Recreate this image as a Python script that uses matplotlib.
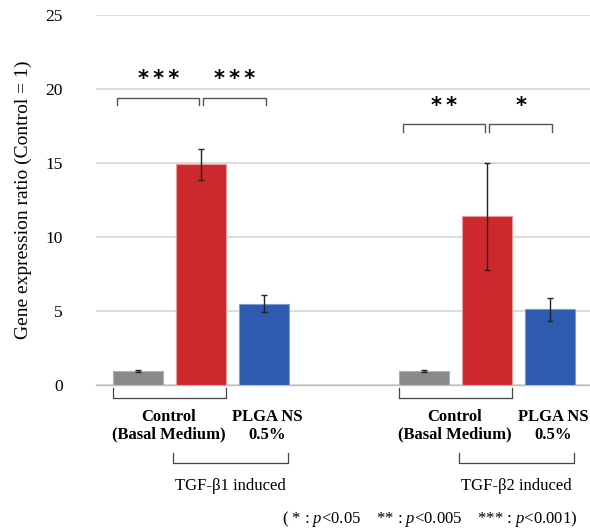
import numpy as np
import matplotlib
matplotlib.use("Agg")
import matplotlib.pyplot as plt
from matplotlib.transforms import blended_transform_factory

plt.rcParams['font.family'] = ['Liberation Serif', 'DejaVu Serif']
plt.rcParams['mathtext.fontset'] = 'custom'
plt.rcParams['mathtext.rm'] = 'Liberation Serif'
plt.rcParams['mathtext.it'] = 'Liberation Serif:italic'

# data
groups = ['TGF-β1 induced', 'TGF-β2 induced']
conditions = ['Control\n(Basal Medium)', 'PLGA NS\n0.5%']
ctrl_vals = [0.95, 0.92]
tgf_vals = [14.9, 11.4]
plga_vals = [5.5, 5.1]
ctrl_err = [0.08, 0.07]
tgf_err = [1.05, 3.6]
plga_err = [0.6, 0.75]
stars_left = ['***', '**']
stars_right = ['***', '*']
bracket_y = [19.4, 17.6]
yticks = [0, 5, 10, 15, 20, 25]

colors = ['#8a8a8a', '#cc282e', '#2e5baf']
edges = ['#b0b0b0', '#e89a9a', '#7f9bd0']

fig = plt.figure(figsize=(5.9, 5.31), dpi=100)
ax = fig.add_axes([0.163, 0.275, 0.837, 0.697])

group_start = np.array([0.0, 4.54])
width = 0.79


def fy(py):
    return 1 - py / 531.0


tr = blended_transform_factory(ax.transData, fig.transFigure)

for g in range(2):
    xs = group_start[g] + np.arange(3)
    vals = [ctrl_vals[g], tgf_vals[g], plga_vals[g]]
    errs = [ctrl_err[g], tgf_err[g], plga_err[g]]
    for i in range(3):
        ax.bar(xs[i], vals[i], width=width, color=colors[i], edgecolor=edges[i],
               linewidth=0.8, zorder=3)
        ax.errorbar(xs[i], vals[i], yerr=errs[i], fmt='none', ecolor='#222222',
                    elinewidth=1.0, capsize=2.5, capthick=1.0, zorder=4)

    # significance brackets above
    h = 0.5
    for (a, b, s) in [(xs[0] - 0.33, xs[1] - 0.03, stars_left[g]),
                      (xs[1] + 0.03, xs[2] + 0.03, stars_right[g])]:
        y = bracket_y[g]
        ax.plot([a, a, b, b], [y - h, y, y, y - h], color='#555555', lw=1.0,
                clip_on=False, zorder=5)
        ax.text((a + b) / 2, y + 0.6, '\u2009'.join(s), ha='center', va='bottom',
                fontsize=15, fontweight='bold', family='DejaVu Sans')

    # labels below axis
    a, b = xs[0] - 0.4, xs[1] + 0.4
    ax.plot([a, a, b, b], [fy(388), fy(398), fy(398), fy(388)], transform=tr,
            color='#444444', lw=0.9, clip_on=False)
    ax.text((xs[0] + xs[1]) / 2 - 0.02, fy(426), conditions[0], transform=tr,
            ha='center', va='center', fontsize=12, fontweight='bold',
            linespacing=1.1)
    ax.text(xs[2] + 0.05, fy(426), conditions[1], transform=tr,
            ha='center', va='center', fontsize=12, fontweight='bold',
            linespacing=1.1)
    a, b = xs[1] - 0.45, xs[2] + 0.38
    ax.plot([a, a, b, b], [fy(453), fy(463), fy(463), fy(453)], transform=tr,
            color='#444444', lw=0.9, clip_on=False)
    ax.text((a + b) / 2, fy(486), groups[g], transform=tr, ha='center',
            va='center', fontsize=12)

ax.set_xlim(-0.667, 7.17)
ax.set_ylim(0, 25)
ax.set_yticks(yticks)
ax.tick_params(axis='y', length=0, labelsize=12.5, pad=24)
ax.set_xticks([])
ax.grid(axis='y', color='#d9d9d9', lw=1.3, zorder=0)
for sp in ['top', 'right', 'left']:
    ax.spines[sp].set_visible(False)
ax.spines['bottom'].set_color('#bfbfbf')
ax.spines['bottom'].set_linewidth(1.0)
ax.set_ylabel('Gene expression ratio (Control = 1)', fontsize=14, labelpad=10)

fig.text(0.978, fy(519),
         r'( * : $\mathit{p}$<0.05    ** : $\mathit{p}$<0.005    *** : $\mathit{p}$<0.001)',
         ha='right', va='center', fontsize=12)

fig.savefig('out.png', dpi=100)
